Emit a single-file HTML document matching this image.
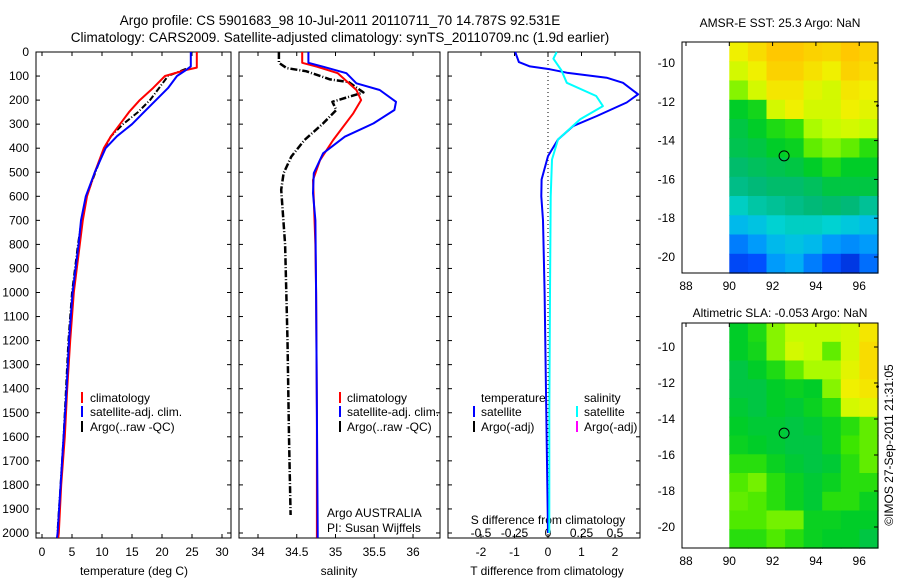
<!DOCTYPE html>
<html><head><meta charset="utf-8">
<style>
html,body{margin:0;padding:0;background:#fff;}
svg{display:block;font-family:"Liberation Sans",sans-serif;}
</style></head>
<body>
<svg id="fig" width="900" height="580" viewBox="0 0 900 580">
<text x="340" y="25" text-anchor="middle" font-size="13.5">Argo profile: CS 5901683_98 10-Jul-2011 20110711_70 14.787S 92.531E</text>
<text x="340" y="42" text-anchor="middle" font-size="13.5">Climatology: CARS2009. Satellite-adjusted climatology: synTS_20110709.nc (1.9d earlier)</text>
<text x="780" y="27" text-anchor="middle" font-size="12">AMSR-E SST: 25.3 Argo: NaN</text>
<text x="780" y="317" text-anchor="middle" font-size="12">Altimetric SLA: -0.053 Argo: NaN</text>
<text transform="translate(893,445) rotate(-90)" text-anchor="middle" font-size="12">©IMOS 27-Sep-2011 21:31:05</text>
</svg>
<script>
// ---------- data ----------
const depthTicks=[0,100,200,300,400,500,600,700,800,900,1000,1100,1200,1300,1400,1500,1600,1700,1800,1900,2000];
const tempTicks=[0,5,10,15,20,25,30];
const salTicks=[34,34.5,35,35.5,36];
const tdiffTicks=[-2,-1,0,1,2];
const sdiffTicks=[-0.5,-0.25,0,0.25,0.5];
const lonTicks=[88,90,92,94,96];
const latTicks=[-10,-12,-14,-16,-18,-20];
// temperature profiles [depth, value]
const tempClimDepth=[0,65,75,100,150,200,250,300,350,400,500,600,700,800,900,1000,1200,1400,1600,1800,2000,2020];
const tempClimVal=[25.8,25.8,24,20.5,18.5,16.3,14.5,13,11.5,10.3,8.8,7.5,6.8,6.3,5.8,5.3,4.7,4.2,3.8,3.2,2.8,2.7];
const tempSatDepth=[0,60,75,100,150,200,250,300,350,400,500,600,700,800,900,1000,1200,1400,1600,1800,2000,2020];
const tempSatVal=[24.8,24.8,24,22.5,21,19,17,15,12.5,10.6,8.8,7.3,6.5,6.1,5.6,5.1,4.5,4.1,3.6,3.1,2.6,2.5];
const tempArgoDepth=[70,100,150,200,250,300,350,400,500,600,700,800,900,1000,1200,1400,1600,1800,1990];
const tempArgoVal=[24,21,19.5,18,16,13.5,11.5,10.4,8.9,7.4,6.6,6.0,5.5,5.0,4.4,4.0,3.6,3.1,2.6];
// salinity profiles
const salClimDepth=[0,45,61,88,158,200,255,366,450,532,615,800,1000,1500,2000,2020];
const salClimVal=[34.57,34.57,34.76,35.03,35.27,35.33,35.23,34.97,34.8,34.71,34.72,34.74,34.75,34.76,34.76,34.76];
const salSatDepth=[0,45,61,88,130,158,207,241,297,352,421,504,587,700,1000,1500,2000,2020];
const salSatVal=[34.65,34.65,34.84,35.14,35.27,35.57,35.78,35.76,35.49,35.12,34.84,34.72,34.71,34.74,34.75,34.76,34.77,34.77];
const salArgoDepth=[0,45,67,80,114,125,168,207,241,297,366,435,504,573,800,1200,1600,1925];
const salArgoVal=[34.27,34.27,34.37,34.62,34.93,35.17,35.36,34.96,35.01,34.84,34.6,34.43,34.33,34.3,34.35,34.38,34.4,34.42];
// differences from climatology
const tdiffDepth=[0,42,60,72,86,107,128,176,210,266,308,364,433,530,600,700,1000,1500,2000];
const tdiffVal=[-0.98,-0.87,-0.54,0.06,0.56,1.75,2.24,2.69,2.35,1.46,0.75,0.3,0,-0.19,-0.2,-0.15,-0.1,-0.05,0];
const sdiffDepth=[0,28,76,128,183,225,280,364,447,600,1000,1500,2000];
const sdiffVal=[0.065,0.04,0.1,0.14,0.36,0.41,0.24,0.075,0.03,0.02,0.015,0.01,0.01];
// map grids (normalised colour value 0..1), rows north->south, cols 90E->98E
const sstGrid=[
[.72,.76,.80,.80,.78,.77,.80,.78],
[.68,.72,.78,.78,.75,.72,.78,.76],
[.62,.68,.74,.74,.70,.68,.74,.72],
[.52,.54,.68,.72,.68,.68,.72,.70],
[.50,.52,.55,.57,.64,.66,.68,.66],
[.49,.50,.52,.53,.60,.62,.60,.56],
[.47,.48,.49,.50,.52,.55,.52,.52],
[.45,.46,.47,.47,.48,.50,.50,.50],
[.41,.43,.44,.45,.46,.47,.46,.44],
[.35,.37,.40,.41,.41,.40,.38,.36],
[.26,.30,.35,.37,.35,.30,.28,.30],
[.18,.20,.30,.33,.26,.20,.14,.24]];
const slaGrid=[
[.52,.55,.62,.66,.66,.66,.68,.74],
[.52,.54,.62,.68,.66,.60,.68,.76],
[.50,.52,.55,.60,.64,.64,.70,.76],
[.50,.50,.52,.53,.52,.62,.72,.74],
[.51,.50,.52,.51,.53,.56,.68,.70],
[.52,.51,.51,.50,.51,.53,.56,.60],
[.53,.52,.51,.50,.50,.53,.58,.60],
[.56,.56,.53,.51,.50,.51,.56,.60],
[.59,.61,.56,.53,.51,.53,.56,.56],
[.60,.59,.56,.53,.51,.56,.56,.53],
[.59,.59,.61,.61,.53,.53,.52,.52],
[.56,.56,.59,.56,.53,.52,.52,.50]];
const floatLon=92.531, floatLat=-14.787;

// ---------- helpers ----------
const NS='http://www.w3.org/2000/svg';
const svg=document.getElementById('fig');
function mk(tag,attrs,parent){const e=document.createElementNS(NS,tag);for(const k in attrs)e.setAttribute(k,attrs[k]);(parent||svg).appendChild(e);return e;}
const yTop=52, pxPer100=24.05;
const yD=d=>yTop+d*pxPer100/100;
const yBot=538;
const xT=v=>42+v*6;
const xS=v=>258+(v-34)*77.5;
const xTd=v=>548+v*33.5;
const xSd=v=>548+v*134;

function frame(x0,x1,name){
  const r=mk('rect',{x:x0,y:yTop,width:x1-x0,height:yBot-yTop,fill:'none',stroke:'#000','stroke-width':1});
  
  
  depthTicks.forEach(d=>{
    mk('line',{x1:x0,x2:x0+4,y1:yD(d),y2:yD(d),stroke:'#000'});
    mk('line',{x1:x1-4,x2:x1,y1:yD(d),y2:yD(d),stroke:'#000'});
  });
}
function line(ds,vs,xf,color,w,name,dash){
  const pts=ds.map((d,i)=>xf(vs[i]).toFixed(1)+','+yD(d).toFixed(1)).join(' ');
  const p=mk('polyline',{points:pts,fill:'none',stroke:color,'stroke-width':w,'stroke-linejoin':'round'});
  if(dash)p.setAttribute('stroke-dasharray',dash);
  
  
}
function xticks(ticks,xf,x0,x1,labelY,name,fmt){
  ticks.forEach(t=>{
    const x=xf(t);
    mk('line',{x1:x,x2:x,y1:yBot-4,y2:yBot,stroke:'#000'});
    mk('line',{x1:x,x2:x,y1:yTop,y2:yTop+4,stroke:'#000'});
    const tx=mk('text',{x:x,y:labelY,'text-anchor':'middle','font-size':12});
    tx.textContent=fmt?fmt(t):String(t);
    
    
  });
}
function txt(x,y,s,name,anchor,size){
  const t=mk('text',{x:x,y:y,'font-size':size||12,'text-anchor':anchor||'start'});
  t.textContent=s;
  
  
}
function legBar(x,y,color,name){
  const l=mk('line',{x1:x,x2:x,y1:y-10,y2:y+1,stroke:color,'stroke-width':2});
  
  
}

// ---------- panel 1: temperature ----------
frame(36,231,'temperature-axes');
depthTicks.forEach(d=>txt(29,yD(d)+4,String(d),'depth-tick-label','end'));
xticks(tempTicks,xT,36,231,556,'temperature-tick-label');
txt(134,575,'temperature (deg C)','temperature-axis-title','middle');
line(tempArgoDepth,tempArgoVal,xT,'#000',2,'temperature-argo-line','6,2,1,2');
line(tempClimDepth,tempClimVal,xT,'#ff0000',2,'temperature-climatology-line');
line(tempSatDepth,tempSatVal,xT,'#0000ff',2,'temperature-satellite-line');
legBar(82,402,'#f00','legend-climatology-swatch');txt(90,402,'climatology','legend-climatology');
legBar(82,416,'#00f','legend-satellite-swatch');txt(90,416,'satellite-adj. clim.','legend-satellite');
legBar(82,431,'#000','legend-argo-swatch');txt(90,431,'Argo(..raw -QC)','legend-argo');

// ---------- panel 2: salinity ----------
frame(239,440,'salinity-axes');
xticks(salTicks,xS,239,440,556,'salinity-tick-label');
txt(339,575,'salinity','salinity-axis-title','middle');
line(salArgoDepth,salArgoVal,xS,'#000',2.5,'salinity-argo-line','7,2,1,2');
line(salClimDepth,salClimVal,xS,'#ff0000',2,'salinity-climatology-line');
line(salSatDepth,salSatVal,xS,'#0000ff',2,'salinity-satellite-line');
legBar(340,402,'#f00','legend-climatology-swatch-2');txt(347,402,'climatology','legend-climatology-2');
legBar(340,416,'#00f','legend-satellite-swatch-2');txt(347,416,'satellite-adj. clim.','legend-satellite-2');
legBar(340,431,'#000','legend-argo-swatch-2');txt(347,431,'Argo(..raw -QC)','legend-argo-2');
txt(327,517,'Argo AUSTRALIA','float-agency-label');
txt(327,532,'PI: Susan Wijffels','float-pi-label');

// ---------- panel 3: differences ----------
frame(448,640,'difference-axes');
mk('line',{x1:548,x2:548,y1:yTop,y2:yBot,stroke:'#000','stroke-dasharray':'1,3'});
xticks(tdiffTicks,xTd,448,640,556,'tdiff-tick-label');
sdiffTicks.forEach(t=>txt(xSd(t),537,String(t),'sdiff-tick-label','middle'));
txt(548,524,'S difference from climatology','sdiff-axis-title','middle');
txt(547,575,'T difference from climatology','tdiff-axis-title','middle');
line(tdiffDepth,tdiffVal,xTd,'#0000ff',2,'tdiff-satellite-line');
line(sdiffDepth,sdiffVal,xSd,'#00ffff',2,'sdiff-satellite-line');
txt(481,402,'temperature','legend-temperature-heading');
txt(584,402,'salinity','legend-salinity-heading');
legBar(474,416,'#00f','legend-t-satellite-swatch');txt(481,416,'satellite','legend-t-satellite');
legBar(474,431,'#000','legend-t-argo-swatch');txt(481,431,'Argo(-adj)','legend-t-argo');
legBar(577,416,'#0ff','legend-s-satellite-swatch');txt(584,416,'satellite','legend-s-satellite');
legBar(577,431,'#f0f','legend-s-argo-swatch');txt(584,431,'Argo(-adj)','legend-s-argo');

// ---------- maps ----------
const cmapStops=[[0,[0,0,160]],[0.2,[0,80,255]],[0.32,[0,170,250]],[0.4,[0,210,210]],[0.46,[0,185,120]],[0.52,[0,205,40]],[0.58,[60,230,0]],[0.65,[190,255,0]],[0.72,[240,240,0]],[0.8,[255,200,0]],[1,[255,120,0]]];
function cmap(v){
  for(let i=1;i<cmapStops.length;i++){
    if(v<=cmapStops[i][0]){
      const a=cmapStops[i-1],b=cmapStops[i],t=(v-a[0])/(b[0]-a[0]);
      return 'rgb('+a[1].map((c,k)=>Math.round(c+(b[1][k]-c)*t)).join(',')+')';
    }
  }
  return 'rgb(255,120,0)';
}
function map(grid,y0,y1,latTop,latPx,name){
  const x0=682,x1=878;
  const xL=lon=>686+(lon-88)*21.65;
  const yL=lat=>latTop+(-10-lat)*latPx;
  const rows=grid.length, cols=grid[0].length;
  const dx0=xL(90), cw=(x1-dx0)/cols, ch=(y1-y0)/rows;
  grid.forEach((row,i)=>row.forEach((v,j)=>{
    const c=mk('rect',{x:(dx0+j*cw).toFixed(1),y:(y0+i*ch).toFixed(1),width:(cw+0.6).toFixed(1),height:(ch+0.6).toFixed(1),fill:cmap(v)});
    
    
  }));
  const f=mk('rect',{x:x0,y:y0,width:x1-x0,height:y1-y0,fill:'none',stroke:'#000'});
  
  
  latTicks.forEach(l=>{const y=yL(l);mk('line',{x1:x1-4,x2:x1,y1:y,y2:y,stroke:'#000'});txt(675,y+4,String(l),name+'-lat-label','end');});
  lonTicks.forEach(l=>{const x=xL(l);mk('line',{x1:x,x2:x,y1:y0,y2:y0+4,stroke:'#000'});txt(x,y1+17,String(l),name+'-lon-label','middle');});
  const c=mk('circle',{cx:xL(floatLon),cy:yL(floatLat),r:5,fill:'none',stroke:'#000','stroke-width':1});
  
  
  mk('circle',{cx:xL(96.85),cy:yL(-12.2),r:1.3,fill:'#000'});
}
map(sstGrid,42,273,63,19.4,'sst-map');
map(slaGrid,323,548,347,18,'sla-map');
</script>
</body></html>
